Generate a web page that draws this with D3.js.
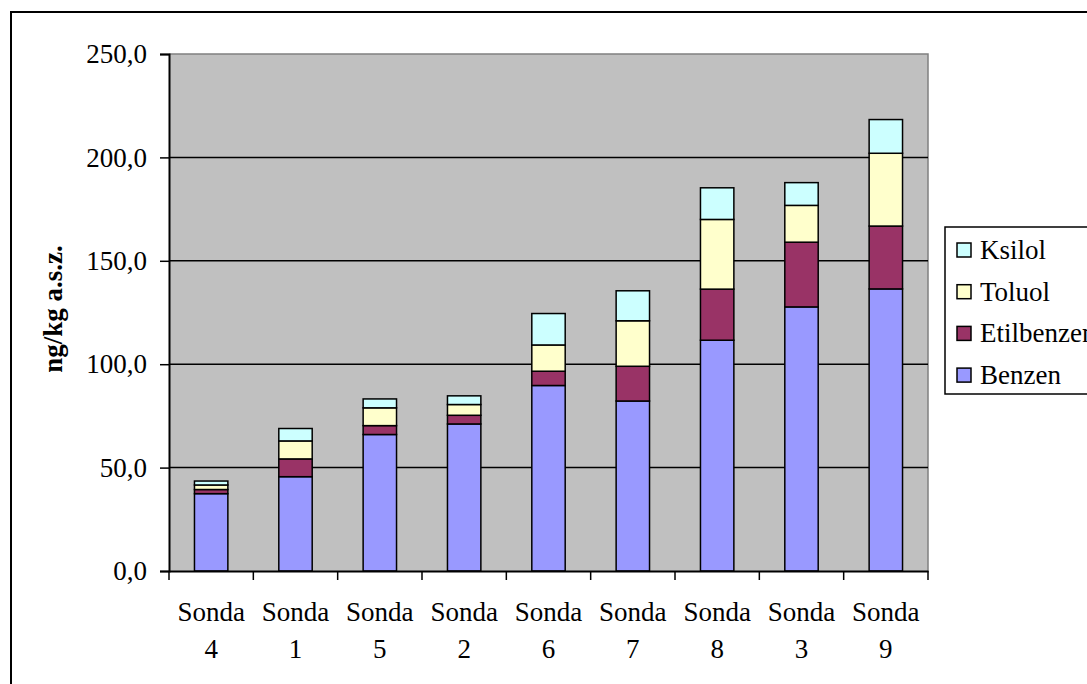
<!DOCTYPE html>
<html>
<head>
<meta charset="utf-8">
<script src="https://cdn.jsdelivr.net/npm/d3@7"></script>
<style>
  html, body { margin: 0; padding: 0; background: #fff; }
  svg { display: block; }
  svg text { font-family: 'Liberation Serif', 'Times New Roman', Times, 'DejaVu Serif', serif !important; fill: #000; }
</style>
</head>
<body>
<svg id="chart" width="1087" height="684"></svg>
<script>
const categories = ["Sonda 4", "Sonda 1", "Sonda 5", "Sonda 2", "Sonda 6", "Sonda 7", "Sonda 8", "Sonda 3", "Sonda 9"];
const seriesNames = ["Benzen", "Etilbenzen", "Toluol", "Ksilol"];
const benzen     = [37.4, 45.6, 66.0, 71.1, 89.7, 82.2, 111.6, 127.7, 136.4];
const etilbenzen = [2.0, 8.6, 4.3, 4.2, 6.9, 16.8, 24.7, 31.3, 30.4];
const toluol     = [2.2, 8.7, 8.6, 5.2, 12.7, 22.0, 33.7, 17.8, 35.2];
const ksilol     = [1.9, 6.0, 4.3, 4.2, 15.2, 14.5, 15.3, 11.0, 16.3];
const yTicks = [0, 50, 100, 150, 200, 250];
const yTitle = "ng/kg a.s.z.";
const colors = { Benzen: "#9999FF", Etilbenzen: "#993366", Toluol: "#FFFFCC", Ksilol: "#CCFFFF" };

const FONT = "'Liberation Serif', 'Times New Roman', Times, 'DejaVu Serif', serif";

const rows = categories.map((c, i) => ({
  cat: c, Benzen: benzen[i], Etilbenzen: etilbenzen[i], Toluol: toluol[i], Ksilol: ksilol[i]
}));

const svg = d3.select("#chart").attr("font-family", FONT);
const FS = 27;

// outer chart border (extends past the viewport)
svg.append("rect").attr("x", 11).attr("y", 12).attr("width", 1200).attr("height", 800)
  .attr("fill", "#fff").attr("stroke", "#000").attr("stroke-width", 2);

const L = 169, R = 928, T = 54, B = 571;
const x = d3.scaleBand().domain(categories).range([L, R]).padding(0);
const y = d3.scaleLinear().domain([0, 250]).range([B, T]);

// plot area
svg.append("rect").attr("x", L).attr("y", T).attr("width", R - L).attr("height", B - T)
  .attr("fill", "#C0C0C0");
svg.append("path").attr("d", `M${L},${T}H${R}V${B}`).attr("fill", "none")
  .attr("stroke", "#808080").attr("stroke-width", 1.5);

// gridlines
svg.append("g").selectAll("line").data(yTicks.filter(t => t > 0 && t < 250)).join("line")
  .attr("x1", L).attr("x2", R).attr("y1", d => y(d)).attr("y2", d => y(d))
  .attr("stroke", "#000").attr("stroke-width", 1.5);

// bars
const stack = d3.stack().keys(seriesNames)(rows);
const bw = x.bandwidth();
svg.append("g").selectAll("g").data(stack).join("g")
  .attr("fill", d => colors[d.key])
  .selectAll("rect").data(d => d).join("rect")
  .attr("x", d => x(d.data.cat) + bw * 0.302)
  .attr("width", bw * 0.396)
  .attr("y", d => y(d[1]))
  .attr("height", d => y(d[0]) - y(d[1]))
  .attr("stroke", "#000").attr("stroke-width", 1.5);

// y axis
const yAxis = svg.append("g").attr("transform", `translate(${L},0)`)
  .call(d3.axisLeft(y).tickValues(yTicks).tickSize(9).tickPadding(13)
    .tickFormat(d => d3.format(".1f")(d).replace(".", ",")));
yAxis.attr("font-family", FONT).attr("font-size", FS);
yAxis.select(".domain").attr("stroke", "#000").attr("stroke-width", 2);
yAxis.selectAll(".tick line").attr("stroke", "#000").attr("stroke-width", 1.5);
yAxis.selectAll(".tick text").attr("font-size", FS).attr("fill", "#000");

// x axis
const xAxis = svg.append("g").attr("transform", `translate(0,${B})`)
  .call(d3.axisBottom(x).tickSize(0).tickFormat(""));
xAxis.select(".domain").attr("stroke", "#000").attr("stroke-width", 2);
xAxis.selectAll(".tick").remove();
const bounds = categories.map(c => x(c)).concat([x(categories[categories.length - 1]) + bw]);
xAxis.selectAll("line.bt").data(bounds).join("line").attr("class", "bt")
  .attr("x1", d => d).attr("x2", d => d).attr("y1", 0).attr("y2", 9)
  .attr("stroke", "#000").attr("stroke-width", 1.5);
// category labels
const lab = svg.append("g").attr("font-family", FONT).selectAll("text").data(categories).join("text")
  .attr("font-size", FS).attr("text-anchor", "middle")
  .attr("x", d => x(d) + bw / 2);
lab.each(function(d) {
  const parts = d.split(" ");
  const t = d3.select(this);
  t.append("tspan").attr("x", x(d) + bw / 2).attr("y", 621).text(parts[0]);
  t.append("tspan").attr("x", x(d) + bw / 2).attr("y", 658).text(parts[1]);
});

// y title
svg.append("text").attr("transform", "translate(62,309) rotate(-90)")
  .attr("text-anchor", "middle").attr("font-size", FS).attr("font-weight", "bold")
  .text(yTitle);

// legend
const lg = svg.append("g");
lg.append("rect").attr("x", 945).attr("y", 227).attr("width", 300).attr("height", 167)
  .attr("fill", "#fff").attr("stroke", "#000").attr("stroke-width", 1.5);
const legendItems = seriesNames.slice().reverse();
const li = lg.selectAll("g").data(legendItems).join("g")
  .attr("transform", (d, i) => `translate(957,${250 + i * 41.7})`);
li.append("rect").attr("x", 0).attr("y", -7).attr("width", 14).attr("height", 14)
  .attr("fill", d => colors[d]).attr("stroke", "#000").attr("stroke-width", 1.5);
li.append("text").attr("x", 23).attr("y", 9).attr("font-size", FS).text(d => d);
</script>
</body>
</html>
